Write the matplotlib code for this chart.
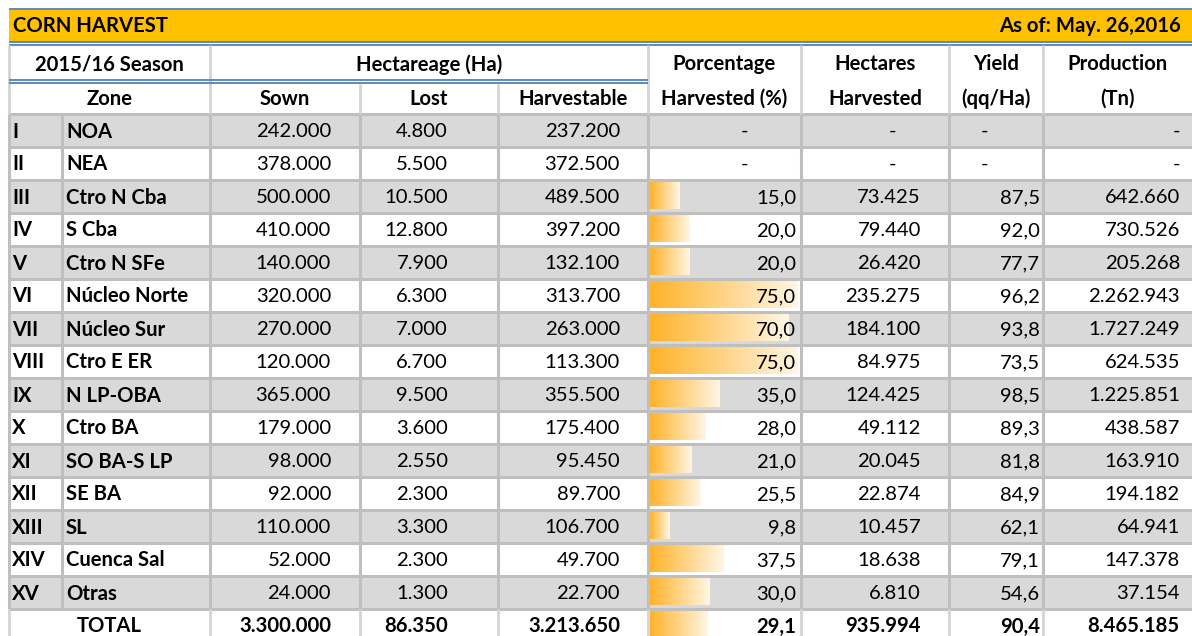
import matplotlib
matplotlib.use("Agg")
import matplotlib.pyplot as plt
from matplotlib.patches import Rectangle
import numpy as np

plt.rcParams['font.family'] = ['Lato', 'DejaVu Sans']

title = "CORN HARVEST"
as_of = "As of: May. 26,2016"
roman = ['I', 'II', 'III', 'IV', 'V', 'VI', 'VII', 'VIII', 'IX', 'X', 'XI', 'XII', 'XIII', 'XIV', 'XV']
zones = ['NOA', 'NEA', 'Ctro N Cba', 'S Cba', 'Ctro N SFe', 'Núcleo Norte', 'Núcleo Sur',
         'Ctro E ER', 'N LP-OBA', 'Ctro BA', 'SO BA-S LP', 'SE BA', 'SL', 'Cuenca Sal', 'Otras']
sown = [242000, 378000, 500000, 410000, 140000, 320000, 270000, 120000, 365000, 179000,
        98000, 92000, 110000, 52000, 24000]
lost = [4800, 5500, 10500, 12800, 7900, 6300, 7000, 6700, 9500, 3600, 2550, 2300, 3300, 2300, 1300]
harvestable = [237200, 372500, 489500, 397200, 132100, 313700, 263000, 113300, 355500, 175400,
               95450, 89700, 106700, 49700, 22700]
pct_harvested = [None, None, 15.0, 20.0, 20.0, 75.0, 70.0, 75.0, 35.0, 28.0, 21.0, 25.5, 9.8, 37.5, 30.0]
ha_harvested = [None, None, 73425, 79440, 26420, 235275, 184100, 84975, 124425, 49112, 20045,
                22874, 10457, 18638, 6810]
yield_qq = [None, None, 87.5, 92.0, 77.7, 96.2, 93.8, 73.5, 98.5, 89.3, 81.8, 84.9, 62.1, 79.1, 54.6]
production = [None, None, 642660, 730526, 205268, 2262943, 1727249, 624535, 1225851, 438587,
              163910, 194182, 64941, 147378, 37154]
total_row = {'sown': 3300000, 'lost': 86350, 'harv': 3213650, 'pct': 29.1,
             'ha': 935994, 'yield': 90.4, 'prod': 8465185}

W, H = 1192, 636
fig = plt.figure(figsize=(W / 100, H / 100), dpi=100)
ax = fig.add_axes([0, 0, 1, 1])
ax.set_xlim(0, W)
ax.set_ylim(H, 0)
ax.axis('off')

# layout (pixels)
cols = [9, 62, 210, 360, 498, 648, 801, 949, 1043, 1192]
y_title0, y_title1 = 10, 42
y_h1, y_h2, y_d0 = 45, 81.5, 114
rh = 33

ORANGE = '#FFC000'
BLUE = '#4F81BD'
GREY = '#D9D9D9'
LINE = '#BFBFBF'
HLINE = '#D4D4D4'
FS = 14.6

def th(v):
    return f"{v:,}".replace(',', '.')

def dec(v):
    return f"{v:.1f}".replace('.', ',')

# title bar
ax.add_patch(Rectangle((cols[0], y_title0), W - cols[0], y_title1 - y_title0, color=ORANGE, lw=0))
for yy in (8.5, 41.5, 44.5):
    ax.plot([cols[0], W], [yy, yy], color=BLUE, lw=1.3, solid_capstyle='butt')
ax.text(13, 26.5, title, ha='left', va='center', fontsize=FS, fontweight='bold', color='black')
ax.text(1181, 26.5, as_of, ha='right', va='center', fontsize=FS, fontweight='bold', color='black')

# data row backgrounds
n = len(roman)
for i in range(n):
    y0 = y_d0 + i * rh
    if i % 2 == 0:
        ax.add_patch(Rectangle((cols[0], y0), W - cols[0], rh, color=GREY, lw=0, zorder=0))

# data bars (linear scale, 0 .. max -> bar width)
bar_x0 = cols[5] + 2
bar_wmax = 148
pmax = max(v for v in pct_harvested if v is not None)
grad = np.linspace(0, 1, 256).reshape(1, -1)
c0 = np.array([1.0, 0.70, 0.16])
c1 = np.array([1.0, 0.965, 0.90])
img = (c0[None, None, :] * (1 - grad[..., None]) + c1[None, None, :] * grad[..., None])

def data_bar(v, y0):
    w = v / pmax * bar_wmax
    ax.imshow(img, extent=(bar_x0, bar_x0 + w, y0 + rh - 4, y0 + 2.5), aspect='auto',
              interpolation='bilinear', zorder=1)

for i, v in enumerate(pct_harvested):
    if v is not None:
        data_bar(v, y_d0 + i * rh)
data_bar(total_row['pct'], y_d0 + n * rh)

# grid lines: horizontal
for i in range(n + 1):
    yy = y_d0 + i * rh
    ax.plot([cols[0], W], [yy, yy], color=LINE, lw=2.2, zorder=2, solid_capstyle='butt')
# vertical lines data area
yb = y_d0 + (n + 1) * rh
for x in cols[:-1]:
    ax.plot([x, x], [y_d0, y_d0 + n * rh], color=LINE, lw=2.2, zorder=2, solid_capstyle='butt')
for x in [cols[0], cols[2], cols[3], cols[4], cols[5], cols[6], cols[7], cols[8]]:
    ax.plot([x, x], [y_d0 + n * rh, yb], color=HLINE, lw=2, zorder=2, solid_capstyle='butt')
# header vertical lines
for x in [cols[0], cols[2], cols[5], cols[6], cols[7], cols[8]]:
    ax.plot([x, x], [y_h1, y_d0], color=HLINE, lw=2, zorder=2, solid_capstyle='butt')
for x in [cols[3], cols[4]]:
    ax.plot([x, x], [y_h2 + 2, y_d0], color=HLINE, lw=2, zorder=2, solid_capstyle='butt')
# double blue under first header row
for yy in (y_h2 - 1.2, y_h2 + 1.8):
    ax.plot([cols[0], cols[5]], [yy, yy], color=BLUE, lw=1.3, solid_capstyle='butt', zorder=3)

# header texts
hy1 = (y_h1 + y_h2) / 2 + 1
hy2 = (y_h2 + y_d0) / 2 + 1
def htxt(x, y, s):
    ax.text(x, y, s, ha='center', va='center', fontsize=FS, fontweight='bold', color='black')

htxt((cols[0] + cols[2]) / 2, hy1, "2015/16 Season")
htxt((cols[2] + cols[5]) / 2, hy1, "Hectareage (Ha)")
htxt((cols[0] + cols[2]) / 2, hy2, "Zone")
htxt((cols[2] + cols[3]) / 2, hy2, "Sown")
htxt((cols[3] + cols[4]) / 2, hy2, "Lost")
htxt((cols[4] + cols[5]) / 2, hy2, "Harvestable")
htxt((cols[5] + cols[6]) / 2, hy1, "Porcentage")
htxt((cols[5] + cols[6]) / 2, hy2, "Harvested (%)")
htxt((cols[6] + cols[7]) / 2, hy1, "Hectares")
htxt((cols[6] + cols[7]) / 2, hy2, "Harvested")
htxt((cols[7] + cols[8]) / 2, hy1, "Yield")
htxt((cols[7] + cols[8]) / 2, hy2, "(qq/Ha)")
htxt((cols[8] + cols[9]) / 2, hy1, "Production")
htxt((cols[8] + cols[9]) / 2, hy2, "(Tn)")

# right-alignment positions for numbers
rx = [331, 448, 620, 796, 921, 1040, 1180]
dash_x = [745, 893, 985, 1177]

def rtxt(x, y, s, bold=False):
    ax.text(x, y, s, ha='right', va='center', fontsize=FS, fontweight='bold' if bold else 'normal',
            color='black', zorder=4)

for i in range(n):
    yc = y_d0 + i * rh + rh / 2 + 1
    ax.text(12, yc, roman[i], ha='left', va='center', fontsize=FS, fontweight='bold', zorder=4)
    ax.text(66, yc, zones[i], ha='left', va='center', fontsize=FS, fontweight='bold', zorder=4)
    rtxt(rx[0], yc, th(sown[i]))
    rtxt(rx[1], yc, th(lost[i]))
    rtxt(rx[2], yc, th(harvestable[i]))
    if pct_harvested[i] is None:
        for dx in dash_x:
            ax.text(dx, yc, '-', ha='center', va='center', fontsize=FS, zorder=4)
    else:
        rtxt(rx[3], yc, dec(pct_harvested[i]))
        rtxt(rx[4], yc, th(ha_harvested[i]))
        rtxt(rx[5], yc, dec(yield_qq[i]))
        rtxt(rx[6], yc, th(production[i]))

yc = y_d0 + n * rh + rh / 2 + 1
htxt((cols[0] + cols[2]) / 2, yc, "TOTAL")
rtxt(rx[0], yc, th(total_row['sown']), True)
rtxt(rx[1], yc, th(total_row['lost']), True)
rtxt(rx[2], yc, th(total_row['harv']), True)
rtxt(rx[3], yc, dec(total_row['pct']), True)
rtxt(rx[4], yc, th(total_row['ha']), True)
rtxt(rx[5], yc, dec(total_row['yield']), True)
rtxt(rx[6], yc, th(total_row['prod']), True)

fig.savefig('out.png', dpi=100)
